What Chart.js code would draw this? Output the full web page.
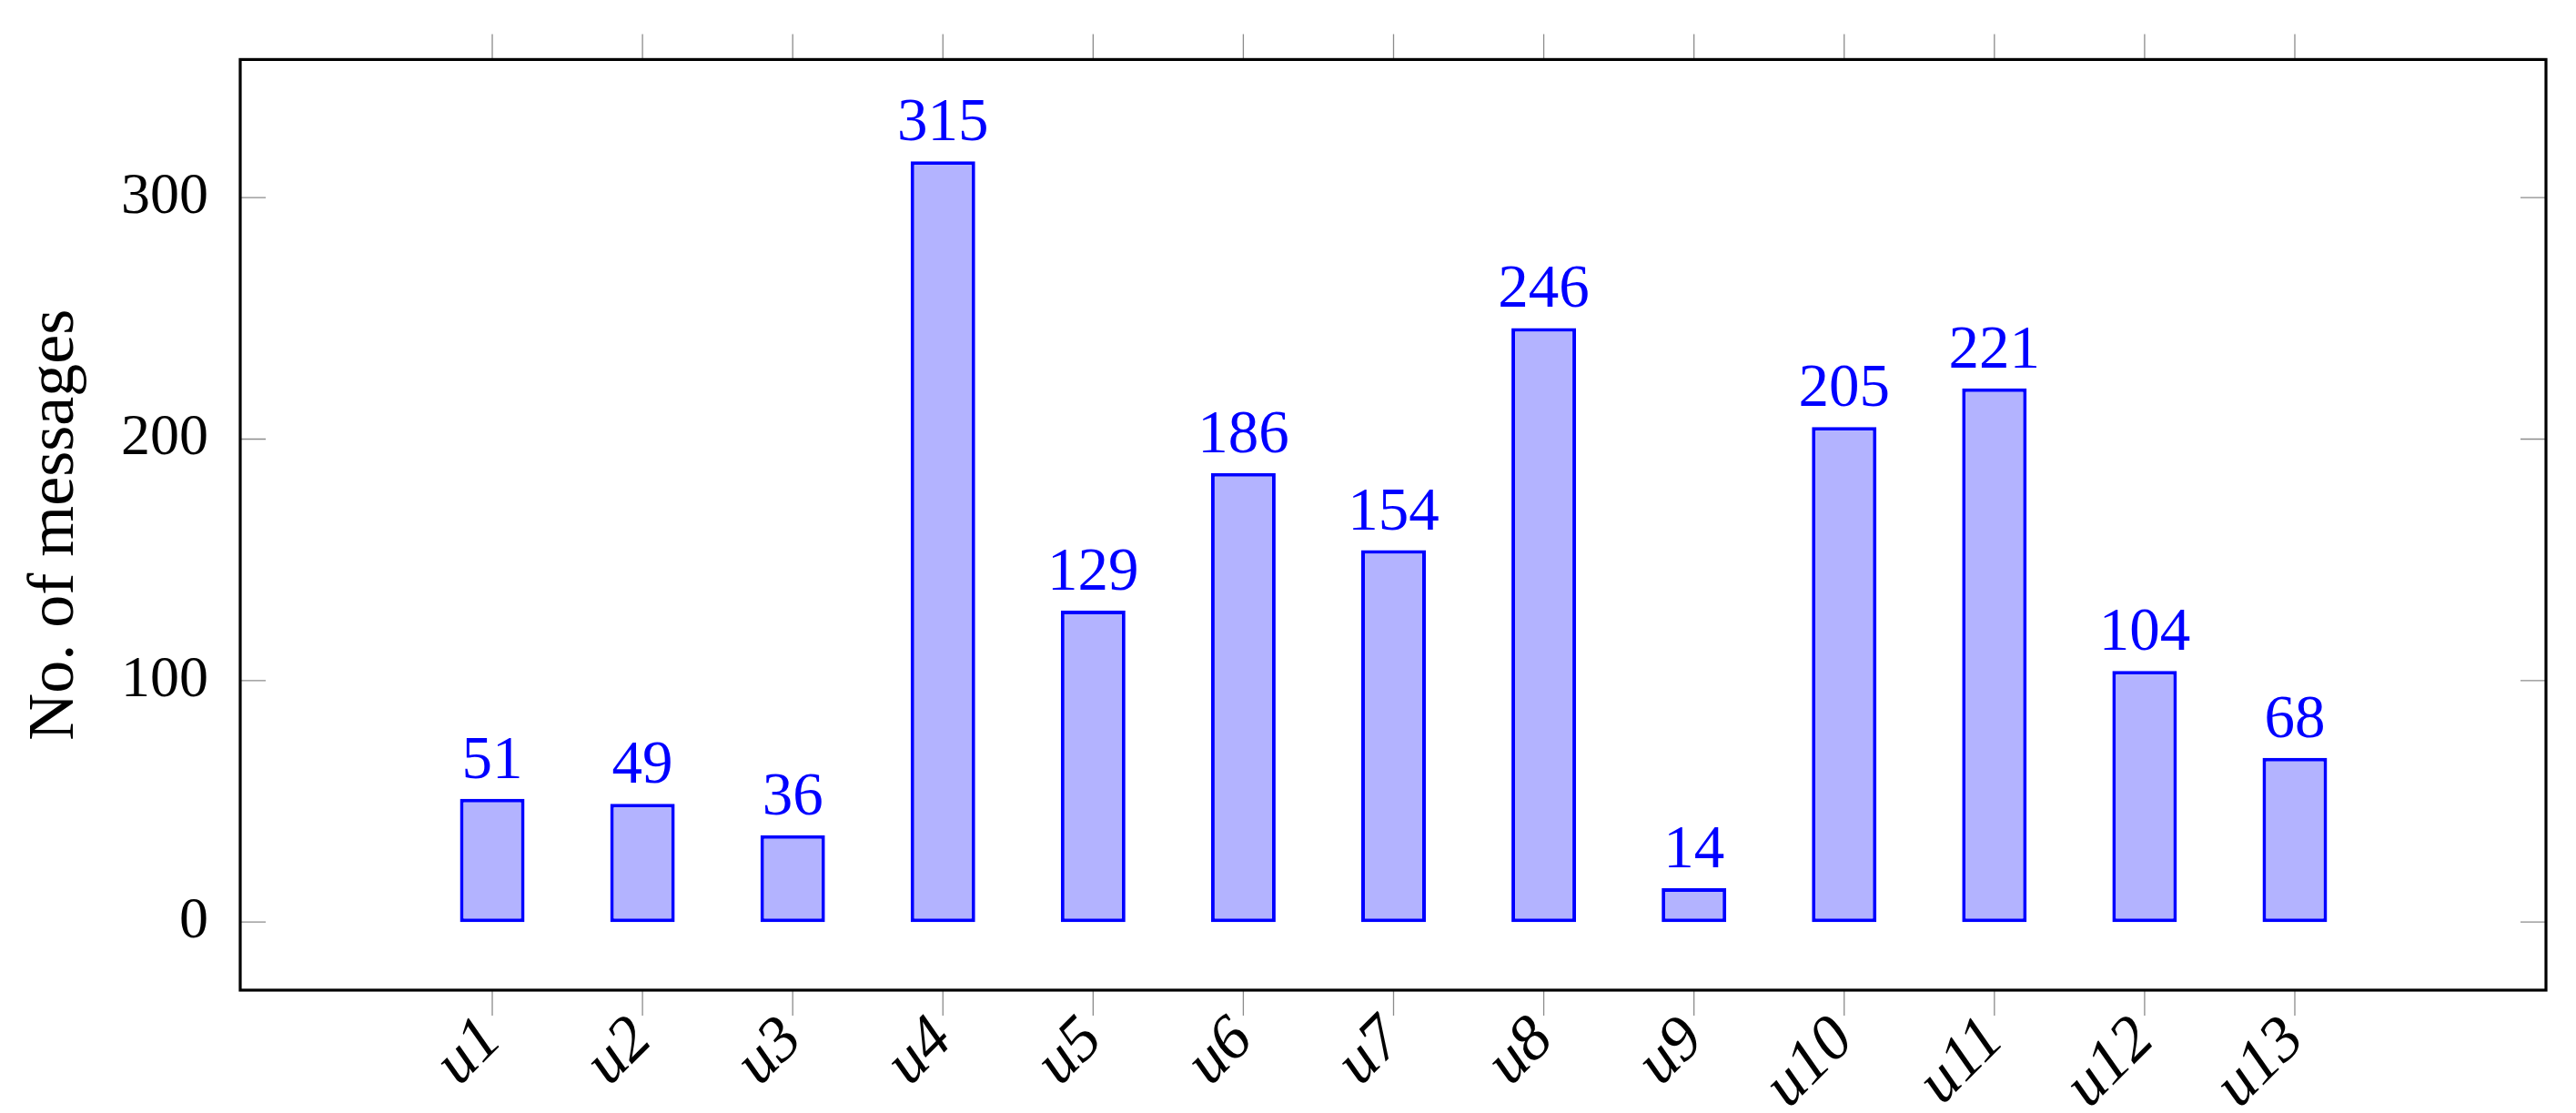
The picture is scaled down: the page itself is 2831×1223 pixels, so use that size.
<!DOCTYPE html>
<html>
<head>
<meta charset="utf-8">
<script src="https://cdn.jsdelivr.net/npm/chart.js@4.4.1/dist/chart.umd.min.js"></script>
<style>
  html, body { margin: 0; padding: 0; background: #ffffff; }
  #chart { display: block; }
</style>
</head>
<body>
<canvas id="chart" width="2831" height="1223"></canvas>
<script>
const users = ["u1", "u2", "u3", "u4", "u5", "u6", "u7", "u8", "u9", "u10", "u11", "u12", "u13"];
const messageCounts = [51, 49, 36, 315, 129, 186, 154, 246, 14, 205, 221, 104, 68];
const yTicks = [0, 100, 200, 300];

const SERIF = "'Liberation Serif', 'DejaVu Serif', serif";
const TICK_COLOR = "#8c8c8c";

// pgfplots style frame, outward x ticks (top and bottom), inward y ticks (left and right)
const framePlugin = {
  id: "frameTicks",
  afterDatasetsDraw(chart) {
    const { ctx, chartArea } = chart;
    const xScale = chart.scales.x;
    const yScale = chart.scales.y;
    const tick = 28;

    ctx.save();
    ctx.strokeStyle = TICK_COLOR;
    ctx.lineWidth = 1.3;
    ctx.beginPath();
    xScale.ticks.forEach((t) => {
      const x = xScale.getPixelForValue(t.value);
      ctx.moveTo(x, chartArea.top);
      ctx.lineTo(x, chartArea.top - tick);
      ctx.moveTo(x, chartArea.bottom);
      ctx.lineTo(x, chartArea.bottom + tick);
    });
    yScale.ticks.forEach((t) => {
      const y = yScale.getPixelForValue(t.value);
      ctx.moveTo(chartArea.left, y);
      ctx.lineTo(chartArea.left + tick, y);
      ctx.moveTo(chartArea.right, y);
      ctx.lineTo(chartArea.right - tick, y);
    });
    ctx.stroke();

    ctx.strokeStyle = "#000000";
    ctx.lineWidth = 3.2;
    ctx.strokeRect(chartArea.left, chartArea.top, chartArea.right - chartArea.left, chartArea.bottom - chartArea.top);
    ctx.restore();
  },
};

// value labels above each bar
const valueLabels = {
  id: "valueLabels",
  afterDatasetsDraw(chart) {
    const { ctx } = chart;
    const meta = chart.getDatasetMeta(0);
    ctx.save();
    ctx.fillStyle = "#0000ff";
    ctx.font = `67px ${SERIF}`;
    ctx.textAlign = "center";
    ctx.textBaseline = "alphabetic";
    meta.data.forEach((bar, i) => {
      ctx.fillText(String(messageCounts[i]), bar.x, bar.y - 23);
    });
    ctx.restore();
  },
};

new Chart(document.getElementById("chart"), {
  type: "bar",
  data: {
    datasets: [
      {
        data: messageCounts.map((v, i) => ({ x: i, y: v })),
        backgroundColor: "#b3b3ff",
        borderColor: "#0000ff",
        borderWidth: 4,
        borderSkipped: false,
        categoryPercentage: 1,
        barPercentage: 0.43,
      },
    ],
  },
  options: {
    responsive: false,
    animation: false,
    devicePixelRatio: 1,
    layout: { padding: { top: 64, right: 33, left: 0, bottom: 0 } },
    plugins: {
      legend: { display: false },
      tooltip: { enabled: false },
    },
    scales: {
      x: {
        type: "linear",
        position: "bottom",
        offset: false,
        min: -1.678,
        max: 13.672,
        grid: { display: false, offset: false },
        border: { display: false },
        afterBuildTicks(scale) {
          scale.ticks = users.map((u, i) => ({ value: i }));
        },
        afterFit(scale) {
          scale.height = 135;
        },
        ticks: {
          autoSkip: false,
          minRotation: 45,
          maxRotation: 45,
          padding: 6,
          color: "#000000",
          font: { family: SERIF, size: 70, style: "italic" },
          callback(value) {
            return users[value];
          },
        },
      },
      y: {
        min: -28.2,
        max: 357.2,
        grid: { display: false },
        border: { display: false },
        afterBuildTicks(scale) {
          scale.ticks = yTicks.map((v) => ({ value: v }));
        },
        afterFit(scale) {
          scale.width = 264;
        },
        ticks: {
          padding: 27,
          color: "#000000",
          font: { family: SERIF, size: 64 },
        },
        title: {
          display: true,
          text: "No. of messages",
          color: "#000000",
          font: { family: SERIF, size: 72, lineHeight: 1 },
          padding: { top: 25, bottom: 0 },
        },
      },
    },
  },
  plugins: [framePlugin, valueLabels],
});
</script>
</body>
</html>
